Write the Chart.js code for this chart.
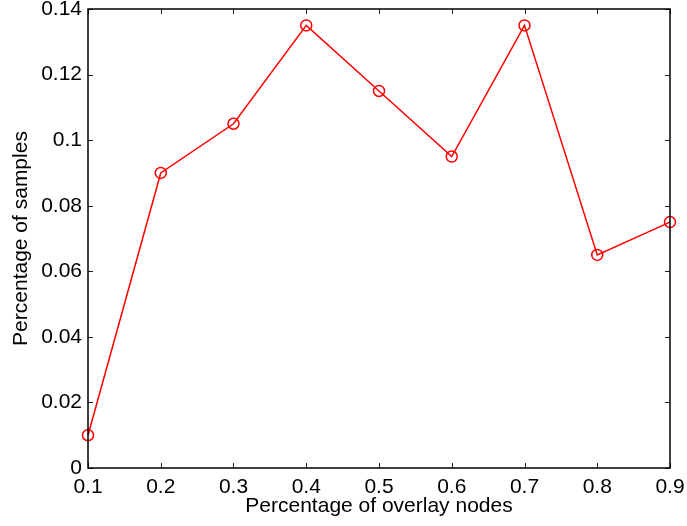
<!DOCTYPE html>
<html>
<head>
<meta charset="utf-8">
<script src="https://cdn.jsdelivr.net/npm/chart.js@4/dist/chart.umd.min.js"></script>
<style>
  html, body { margin: 0; padding: 0; background: #fff; }
  #wrap { width: 687px; height: 526px; }
</style>
</head>
<body>
<div id="wrap"><canvas id="grafico" width="687" height="526"></canvas></div>
<script>
const overlayNodes = [0.1, 0.2, 0.3, 0.4, 0.5, 0.6, 0.7, 0.8, 0.9];
const samplePct = [0.01, 0.09, 0.105, 0.135, 0.115, 0.095, 0.135, 0.065, 0.075];
const xTicks = [0.1, 0.2, 0.3, 0.4, 0.5, 0.6, 0.7, 0.8, 0.9];
const yTicks = [0, 0.02, 0.04, 0.06, 0.08, 0.1, 0.12, 0.14];

const fuente = 'Liberation Sans, Arial, Helvetica, sans-serif';
const area = { left: 88, top: 9, right: 670, bottom: 468 };

function etiqueta(v) {
    return String(parseFloat(Number(v).toFixed(3)));
}

// marco completo y marcas hacia dentro en los cuatro lados
const marcoPlugin = {
    id: 'marco',
    afterDraw(chart) {
        const { ctx, chartArea: ca, scales } = chart;
        const largo = 5;
        ctx.save();
        ctx.strokeStyle = '#222';
        ctx.lineWidth = 1;
        xTicks.forEach((v) => {
            const px = Math.round(scales.x.getPixelForValue(v)) + 0.5;
            ctx.beginPath();
            ctx.moveTo(px, ca.bottom); ctx.lineTo(px, ca.bottom - largo);
            ctx.moveTo(px, ca.top); ctx.lineTo(px, ca.top + largo);
            ctx.stroke();
        });
        yTicks.forEach((v) => {
            const py = Math.round(scales.y.getPixelForValue(v)) + 0.5;
            ctx.beginPath();
            ctx.moveTo(ca.left, py); ctx.lineTo(ca.left + largo, py);
            ctx.moveTo(ca.right, py); ctx.lineTo(ca.right - largo, py);
            ctx.stroke();
        });
        ctx.strokeStyle = '#000';
        ctx.lineWidth = 1.5;
        ctx.strokeRect(ca.left, ca.top, ca.right - ca.left, ca.bottom - ca.top);
        ctx.restore();
    }
};

new Chart(document.getElementById('grafico'), {
    type: 'scatter',
    data: {
        datasets: [{
            data: overlayNodes.map((x, i) => ({ x, y: samplePct[i] })),
            showLine: true,
            clip: false,
            borderColor: '#ff0000',
            borderWidth: 1.5,
            pointRadius: 5.5,
            pointBorderWidth: 1.5,
            pointBorderColor: '#ff0000',
            pointBackgroundColor: 'rgba(0,0,0,0)',
            tension: 0
        }]
    },
    options: {
        responsive: false,
        animation: false,
        layout: { autoPadding: false, padding: { top: area.top, right: 687 - area.right, left: 0, bottom: 0 } },
        plugins: { legend: { display: false }, tooltip: { enabled: false } },
        scales: {
            x: {
                type: 'linear',
                min: 0.1, max: 0.9,
                afterBuildTicks: (s) => { s.ticks = xTicks.map((v) => ({ value: v })); },
                afterFit: (s) => { s.height = 526 - area.bottom; s.paddingLeft = 0; s.paddingRight = 0; },
                grid: { display: false, drawTicks: false },
                border: { display: false },
                ticks: { color: '#000', padding: 7, maxRotation: 0, font: { family: fuente, size: 21 }, callback: etiqueta },
                title: { display: true, text: 'Percentage of overlay nodes', color: '#000', padding: { top: 0, bottom: 7 }, font: { family: fuente, size: 21 } }
            },
            y: {
                type: 'linear',
                min: 0, max: 0.14,
                afterBuildTicks: (s) => { s.ticks = yTicks.map((v) => ({ value: v })); },
                afterFit: (s) => { s.width = area.left; s.paddingTop = 0; s.paddingBottom = 0; },
                grid: { display: false, drawTicks: false },
                border: { display: false },
                ticks: { color: '#000', padding: 6, font: { family: fuente, size: 21 }, callback: etiqueta },
                title: { display: true, text: 'Percentage of samples', color: '#000', padding: { top: 9, bottom: 0 }, font: { family: fuente, size: 21 } }
            }
        }
    },
    plugins: [marcoPlugin]
});
</script>
</body>
</html>
